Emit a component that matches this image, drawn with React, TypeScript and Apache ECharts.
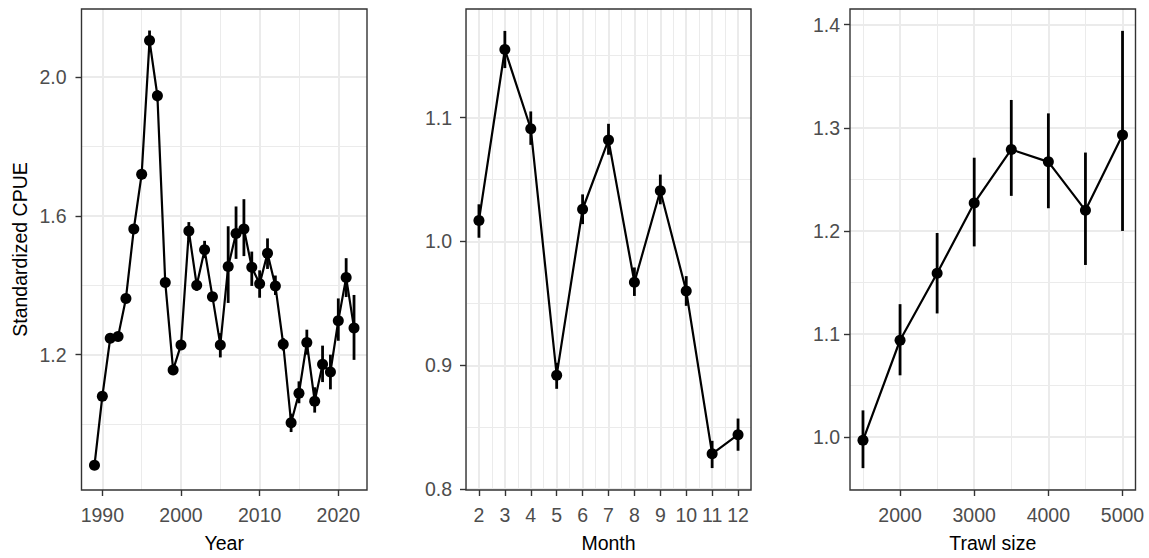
import React, { useEffect, useRef } from "react";
import * as echarts from "echarts";

const FONT = "'Liberation Sans', Arial, sans-serif";

// ---- Panel 1: Year ----
const years = [1989, 1990, 1991, 1992, 1993, 1994, 1995, 1996, 1997, 1998, 1999, 2000, 2001, 2002, 2003, 2004, 2005, 2006, 2007, 2008, 2009, 2010, 2011, 2012, 2013, 2014, 2015, 2016, 2017, 2018, 2019, 2020, 2021, 2022];
const yearEst = [0.881, 1.080, 1.247, 1.252, 1.362, 1.562, 1.720, 2.105, 1.946, 1.408, 1.156, 1.228, 1.556, 1.400, 1.502, 1.367, 1.228, 1.454, 1.549, 1.562, 1.452, 1.404, 1.492, 1.398, 1.230, 1.004, 1.089, 1.235, 1.066, 1.172, 1.150, 1.298, 1.422, 1.277];
const yearLo = [0.876, 1.074, 1.240, 1.245, 1.352, 1.550, 1.705, 2.078, 1.930, 1.395, 1.148, 1.218, 1.532, 1.384, 1.478, 1.355, 1.192, 1.349, 1.476, 1.484, 1.398, 1.364, 1.447, 1.372, 1.212, 0.977, 1.060, 1.200, 1.033, 1.121, 1.100, 1.240, 1.366, 1.185];
const yearHi = [0.886, 1.086, 1.254, 1.259, 1.372, 1.575, 1.735, 2.134, 1.962, 1.421, 1.164, 1.238, 1.582, 1.416, 1.528, 1.380, 1.262, 1.570, 1.627, 1.648, 1.497, 1.443, 1.535, 1.428, 1.248, 1.030, 1.123, 1.272, 1.106, 1.226, 1.200, 1.362, 1.478, 1.372];
const yearTicks = [1990, 2000, 2010, 2020];
const yearMinorTicks = [1995, 2005, 2015];
const cpue1Ticks = [1.2, 1.6, 2.0];
const cpue1MinorTicks = [1.0, 1.4, 1.8];

// ---- Panel 2: Month ----
const months = [2, 3, 4, 5, 6, 7, 8, 9, 10, 11, 12];
const monthEst = [1.017, 1.155, 1.091, 0.892, 1.026, 1.082, 0.967, 1.041, 0.960, 0.8285, 0.844];
const monthLo = [1.003, 1.140, 1.078, 0.881, 1.014, 1.070, 0.956, 1.030, 0.948, 0.817, 0.831];
const monthHi = [1.030, 1.170, 1.105, 0.902, 1.038, 1.095, 0.979, 1.054, 0.972, 0.839, 0.857];
const monthTicks = [2, 3, 4, 5, 6, 7, 8, 9, 10, 11, 12];
const monthMinorTicks = [1.5, 2.5, 3.5, 4.5, 5.5, 6.5, 7.5, 8.5, 9.5, 10.5, 11.5, 12.5];
const cpue2Ticks = [0.8, 0.9, 1.0, 1.1];
const cpue2MinorTicks = [0.85, 0.95, 1.05, 1.15];

// ---- Panel 3: Trawl size ----
const trawlSizes = [1500, 2000, 2500, 3000, 3500, 4000, 4500, 5000];
const trawlEst = [0.997, 1.094, 1.159, 1.227, 1.279, 1.267, 1.220, 1.293];
const trawlLo = [0.970, 1.060, 1.120, 1.185, 1.234, 1.222, 1.167, 1.200];
const trawlHi = [1.026, 1.129, 1.198, 1.271, 1.327, 1.314, 1.276, 1.394];
const trawlTicks = [2000, 3000, 4000, 5000];
const trawlMinorTicks = [1500, 2500, 3500, 4500];
const cpue3Ticks = [1.0, 1.1, 1.2, 1.3, 1.4];
const cpue3MinorTicks = [0.95, 1.05, 1.15, 1.25, 1.35];

type Panel = {
  x: number[]; est: number[]; lo: number[]; hi: number[];
  xMin: number; xMax: number; yMin: number; yMax: number;
  xTicks: number[]; xMinor: number[]; yTicks: number[]; yMinor: number[];
  xName: string; yName: string; yLabelMargin: number;
  grid: { left: number; top: number; width: number; height: number };
};

const panels: Panel[] = [
  {
    x: years, est: yearEst, lo: yearLo, hi: yearHi,
    xMin: 1987.35, xMax: 2023.65, yMin: 0.81, yMax: 2.196,
    xTicks: yearTicks, xMinor: yearMinorTicks, yTicks: cpue1Ticks, yMinor: cpue1MinorTicks,
    xName: "Year", yName: "Standardized CPUE", yLabelMargin: 15,
    grid: { left: 81.5, top: 9, width: 285.5, height: 485 },
  },
  {
    x: months, est: monthEst, lo: monthLo, hi: monthHi,
    xMin: 1.5, xMax: 12.5, yMin: 0.7993, yMax: 1.1877,
    xTicks: monthTicks, xMinor: monthMinorTicks, yTicks: cpue2Ticks, yMinor: cpue2MinorTicks,
    xName: "Month", yName: "", yLabelMargin: 14,
    grid: { left: 466, top: 9, width: 285, height: 484.5 },
  },
  {
    x: trawlSizes, est: trawlEst, lo: trawlLo, hi: trawlHi,
    xMin: 1325, xMax: 5175, yMin: 0.9488, yMax: 1.4152,
    xTicks: trawlTicks, xMinor: trawlMinorTicks, yTicks: cpue3Ticks, yMinor: cpue3MinorTicks,
    xName: "Trawl size", yName: "", yLabelMargin: 10,
    grid: { left: 850, top: 9, width: 285.5, height: 485 },
  },
];

function buildOption(): any {
  const grid: any[] = [];
  const xAxis: any[] = [];
  const yAxis: any[] = [];
  const series: any[] = [];

  panels.forEach((p, i) => {
    grid.push({
      ...p.grid,
      show: true,
      z: 5,
      backgroundColor: "rgba(0,0,0,0)",
      borderColor: "#333333",
      borderWidth: 1.4,
      containLabel: false,
    });
    xAxis.push({
      type: "value", gridIndex: i, min: p.xMin, max: p.xMax, position: "bottom",
      axisLine: { show: false },
      axisTick: { show: true, length: 6, lineStyle: { color: "#333333", width: 1.4 }, customValues: p.xTicks },
      axisLabel: { show: true, customValues: p.xTicks, margin: 15, color: "#4D4D4D", fontSize: 19.5, fontFamily: FONT, formatter: (v: number) => String(v) },
      splitLine: { show: true, lineStyle: { color: "#EBEBEB", width: 2 } },
      name: p.xName, nameLocation: "middle", nameGap: 43,
      nameTextStyle: { color: "#000000", fontSize: 19.5, fontFamily: FONT },
    });
    yAxis.push({
      type: "value", gridIndex: i, min: p.yMin, max: p.yMax, position: "left",
      axisLine: { show: false },
      axisTick: { show: true, length: 6, lineStyle: { color: "#333333", width: 1.4 }, customValues: p.yTicks },
      axisLabel: { show: true, customValues: p.yTicks, margin: p.yLabelMargin, color: "#4D4D4D", fontSize: 19.5, fontFamily: FONT, formatter: (v: number) => v.toFixed(1) },
      splitLine: { show: true, lineStyle: { color: "#EBEBEB", width: 2 } },
      name: p.yName, nameLocation: "middle", nameGap: 52,
      nameTextStyle: { color: "#000000", fontSize: 19.5, fontFamily: FONT },
    });
  });
  // minor grid axes
  panels.forEach((p, i) => {
    xAxis.push({
      type: "value", gridIndex: i, min: p.xMin, max: p.xMax, position: "top",
      axisLine: { show: false },
      axisTick: { show: false, customValues: p.xMinor },
      axisLabel: { show: false, customValues: p.xMinor },
      splitLine: { show: true, lineStyle: { color: "#EBEBEB", width: 1 } },
    });
    yAxis.push({
      type: "value", gridIndex: i, min: p.yMin, max: p.yMax, position: "right",
      axisLine: { show: false },
      axisTick: { show: false, customValues: p.yMinor },
      axisLabel: { show: false, customValues: p.yMinor },
      splitLine: { show: true, lineStyle: { color: "#EBEBEB", width: 1 } },
    });
  });

  panels.forEach((p, i) => {
    series.push({
      type: "custom",
      coordinateSystem: "cartesian2d",
      xAxisIndex: i,
      yAxisIndex: i,
      z: 2,
      data: p.x.map((x, k) => [x, p.lo[k], p.hi[k]]),
      encode: { x: 0, y: [1, 2] },
      renderItem: (params: any, api: any) => {
        const a = api.coord([api.value(0), api.value(1)]);
        const b = api.coord([api.value(0), api.value(2)]);
        return {
          type: "line",
          shape: { x1: a[0], y1: a[1], x2: b[0], y2: b[1] },
          style: { stroke: "#000000", lineWidth: 2.8 },
        };
      },
    });
    series.push({
      type: "line",
      xAxisIndex: i,
      yAxisIndex: i,
      z: 3,
      data: p.x.map((x, k) => [x, p.est[k]]),
      symbol: "circle",
      symbolSize: 11,
      showSymbol: true,
      lineStyle: { color: "#000000", width: 2.2 },
      itemStyle: { color: "#000000" },
      emphasis: { disabled: true },
    });
  });

  return {
    animation: false,
    backgroundColor: "#ffffff",
    textStyle: { fontFamily: FONT },
    grid,
    xAxis,
    yAxis,
    series,
  };
}

export default function App() {
  const ref = useRef<HTMLDivElement>(null);
  useEffect(() => {
    if (!ref.current) return;
    const chart = echarts.init(ref.current, undefined, { renderer: "svg" });
    chart.setOption(buildOption());
    return () => chart.dispose();
  }, []);
  return (
    <div
      ref={ref}
      style={{ position: "absolute", left: 0, top: 0, width: 1149, height: 558, background: "#fff" }}
    />
  );
}
